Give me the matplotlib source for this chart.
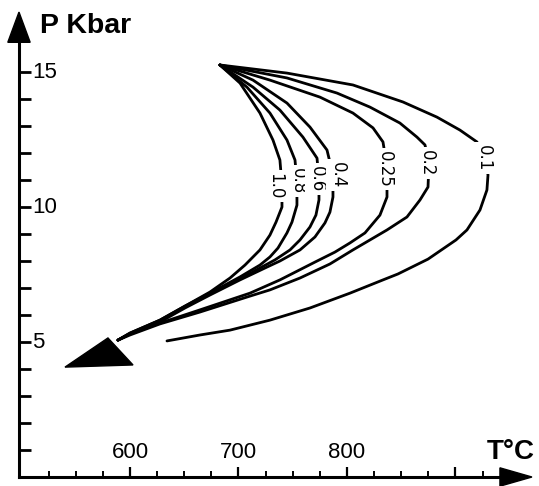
import matplotlib
matplotlib.use("Agg")
import matplotlib.pyplot as plt
from matplotlib.patches import Polygon

# ---------------- data ----------------
curve_labels = ["1.0", "0.8", "0.6", "0.4", "0.25", "0.2", "0.1"]

T_10 = [682.9, 701.4, 719.8, 731.8, 738.2, 740.1, 740.1, 734.6, 729.0, 719.8, 706.0, 692.2, 673.7, 650.7, 627.6, 600.0, 588.9]
P_10 = [15.26, 14.59, 13.48, 12.48, 11.74, 10.81, 10.00, 9.44, 8.96, 8.41, 7.85, 7.37, 6.85, 6.33, 5.81, 5.33, 5.07]

T_08 = [682.9, 707.8, 729.0, 744.7, 752.1, 753.9, 753.9, 749.3, 744.7, 736.4, 729.0, 719.8, 701.4, 673.7, 650.7, 627.6, 600.0, 588.9]
P_08 = [15.26, 14.44, 13.48, 12.48, 11.74, 10.93, 10.07, 9.44, 9.04, 8.48, 8.15, 7.85, 7.41, 6.81, 6.33, 5.81, 5.33, 5.07]

T_06 = [682.9, 713.4, 738.2, 759.4, 772.4, 774.2, 774.2, 771.4, 765.9, 756.7, 747.5, 733.6, 719.8, 701.4, 673.7, 650.7, 627.6, 600.0, 588.9]
P_06 = [15.26, 14.44, 13.59, 12.59, 11.81, 11.00, 10.26, 9.70, 9.26, 8.78, 8.41, 8.04, 7.74, 7.33, 6.78, 6.30, 5.78, 5.30, 5.07]

T_04 = [682.9, 713.4, 744.7, 765.9, 781.6, 787.1, 787.1, 784.3, 779.7, 770.5, 756.7, 738.2, 724.4, 701.4, 673.7, 650.7, 627.6, 600.0, 588.9]
P_04 = [15.26, 14.70, 13.85, 12.96, 12.11, 11.19, 10.37, 9.81, 9.41, 8.89, 8.41, 8.00, 7.74, 7.30, 6.74, 6.26, 5.74, 5.30, 5.07]

T_025 = [682.9, 729.0, 775.1, 805.5, 824.0, 833.2, 836.9, 836.9, 830.4, 816.6, 802.8, 788.9, 770.5, 738.2, 710.6, 664.5, 627.6, 600.0, 588.9]
P_025 = [15.26, 14.70, 14.07, 13.48, 12.93, 12.41, 11.48, 10.37, 9.70, 9.04, 8.67, 8.33, 7.96, 7.30, 6.81, 6.19, 5.70, 5.30, 5.07]

T_02 = [682.9, 744.7, 790.8, 821.2, 848.8, 864.5, 871.9, 875.6, 874.7, 867.3, 855.3, 836.9, 821.2, 805.5, 784.3, 756.7, 729.0, 710.6, 664.5, 627.6, 600.0, 588.9]
P_02 = [15.26, 14.78, 14.22, 13.70, 13.11, 12.59, 12.30, 11.63, 10.74, 10.26, 9.63, 9.15, 8.78, 8.41, 7.89, 7.37, 6.93, 6.70, 6.11, 5.67, 5.26, 5.07]

T_01 = [682.9, 744.7, 805.5, 851.6, 882.9, 904.1, 919.8, 926.3, 930.0, 929.0, 922.6, 910.6, 900.5, 874.7, 847.0, 833.2, 802.8, 765.9, 729.0, 692.2, 664.5, 634.1]
P_01 = [15.26, 14.96, 14.52, 13.89, 13.33, 12.85, 12.41, 11.85, 11.19, 10.63, 9.89, 9.15, 8.78, 8.07, 7.52, 7.30, 6.81, 6.26, 5.81, 5.44, 5.26, 5.04]

label_T = [733.6, 754.8, 772.4, 791.7, 835.0, 873.7, 926.3]
label_P = [10.78, 10.96, 11.04, 11.19, 11.41, 11.63, 11.81]

arrow_T = [540.1, 579.7, 602.8]
arrow_P = [4.07, 5.15, 4.15]

x_ticks_major = [600, 700, 800, 900]
x_ticks_minor = [525, 550, 575, 625, 650, 675, 725, 750, 775, 825, 850, 875, 925]
x_tick_labels = [600, 700, 800]
y_ticks = [1, 2, 3, 4, 5, 6, 7, 8, 9, 10, 11, 12, 13, 14, 15]
y_tick_labels = [5, 10, 15]

# ---------------- figure ----------------
plt.rcParams["font.family"] = ["Liberation Sans", "DejaVu Sans"]
fig = plt.figure(figsize=(5.39, 4.86), dpi=100)
ax = fig.add_axes([0, 0, 1, 1])
ax.set_xlim(480.2, 977.0)
ax.set_ylim(-0.333, 17.667)

T0 = 497.7  # position of the vertical axis (x data)
for s in ["top", "right"]:
    ax.spines[s].set_visible(False)
ax.spines["left"].set_position(("data", T0))
ax.spines["bottom"].set_position(("data", 0))
ax.spines["left"].set_bounds(0, 16.3)
ax.spines["bottom"].set_bounds(T0, 945)
ax.spines["left"].set_linewidth(2.2)
ax.spines["bottom"].set_linewidth(2.2)

ax.set_yticks(y_ticks)
ax.set_xticks(x_ticks_major)
ax.set_xticks(x_ticks_minor, minor=True)
ax.tick_params(axis="y", direction="in", length=8.5, width=2, labelleft=False)
ax.tick_params(axis="x", which="major", direction="in", length=7, width=1.6, labelbottom=False)
ax.tick_params(axis="x", which="minor", direction="in", length=4, width=1.4)

# axis arrowheads
ax.add_patch(Polygon([[T0, 17.22], [T0 - 10.3, 16.1], [T0 + 10.3, 16.1]],
                     closed=True, fc="black", ec="black", clip_on=False))
ax.add_patch(Polygon([[970.5, 0], [941, 0.34], [941, -0.34]],
                     closed=True, fc="black", ec="black", clip_on=False))

# tick labels
for v in x_tick_labels:
    ax.text(v, 0.52, str(v), ha="center", va="bottom", fontsize=16)
for v in y_tick_labels:
    ax.text(509.5, v, str(v), ha="left", va="center", fontsize=16)

ax.text(517, 16.69, "P Kbar", ha="left", va="center", fontsize=20.5, fontweight="bold")
ax.text(929, 0.93, "T°C", ha="left", va="center", fontsize=20, fontweight="bold")

# curves
curves = [(T_10, P_10), (T_08, P_08), (T_06, P_06), (T_04, P_04),
          (T_025, P_025), (T_02, P_02), (T_01, P_01)]
for T, P in curves:
    ax.plot(T, P, color="black", lw=2.0, solid_joinstyle="round", solid_capstyle="round", zorder=2)

for lab, t, p in zip(curve_labels, label_T, label_P):
    ax.text(t, p, lab, rotation=-90, ha="center", va="center", fontsize=12,
            family=["DejaVu Sans"],
            bbox=dict(fc="white", ec="none", pad=2.0), zorder=4)

# arrowhead at end of the path
ax.add_patch(Polygon(list(zip(arrow_T, arrow_P)), closed=True, fc="black", ec="black", zorder=3))

fig.savefig("out.png", dpi=100)
